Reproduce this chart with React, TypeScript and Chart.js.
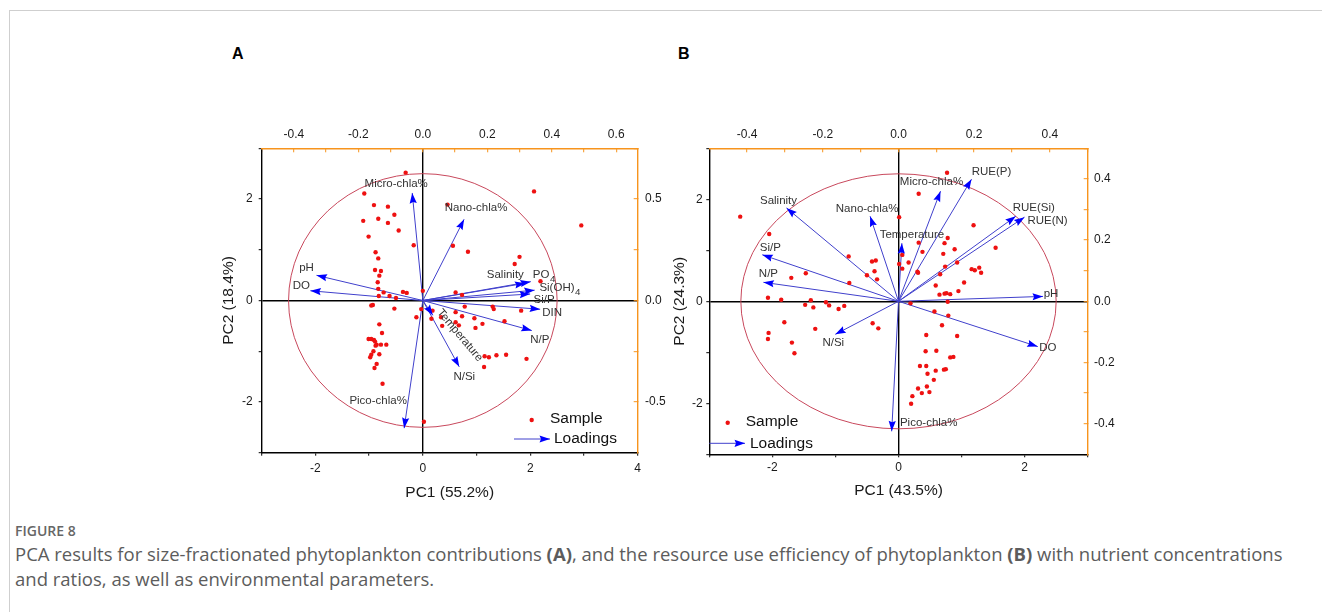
import React, { useEffect, useRef } from 'react';
import { Chart, registerables } from 'chart.js';
Chart.register(...registerables);

const FONT = "'Liberation Sans', Arial, Helvetica, sans-serif";
const RED = '#ee1111';
const SHAFT = '#4040cc';
const HEAD = '#0000ff';
const ELLIPSE = '#c8485c';
const ORANGE = '#f7941d';
const CIRCLE_R = 2.5;
const SUBSCRIPTED = ['PO4', 'Si(OH)4'];

// ---------------- Panel A ----------------
const samplesA: [number, number][] = [
  [-0.32, 2.52], [-1.09, 2.11], [-0.91, 1.88], [-0.65, 1.85], [-0.53, 1.69], [-0.83, 1.61], [-1.11, 1.57],
  [-0.65, 1.53], [-0.45, 1.38], [-1.01, 1.26], [-0.17, 1.09], [-0.88, 0.95], [-0.83, 0.83], [-0.89, 0.6],
  [-0.78, 0.58], [-0.81, 0.49], [-0.84, 0.36], [-0.83, 0.23], [-0.82, 0.09], [-0.62, 0.09], [-0.73, 0.16],
  [-0.5, 0.05], [-0.37, 0.17], [-0.3, 0.15], [0.0, 0.19], [0.46, 1.89], [0.56, 1.08], [0.84, 0.96],
  [2.07, 2.15], [2.95, 1.48], [1.8, 0.86], [1.71, 0.72], [2.19, 0.38], [0.61, 0.16], [0.73, 0.11],
  [-0.93, -0.09], [-0.96, -0.1], [-0.53, -0.16], [-0.81, -0.47], [-0.76, -0.64], [-1.01, -0.76],
  [-0.96, -0.76], [-0.91, -0.78], [-0.89, -0.81], [-0.86, -0.87], [-0.78, -0.87], [-0.68, -0.87],
  [-0.88, -0.89], [-0.92, -1.0], [-0.96, -1.07], [-0.98, -1.12], [-0.81, -1.06], [-0.86, -1.25],
  [-0.9, -1.33], [-0.75, -1.64], [0.02, -2.39], [-0.03, -0.17], [-0.12, -0.33], [0.16, -0.36],
  [0.18, -0.2], [0.34, -0.33], [0.36, -0.5], [0.61, -0.23], [0.73, -0.31], [0.78, -0.12], [0.61, -0.43],
  [0.67, -0.49], [0.96, -0.35], [0.98, -0.54], [1.11, -0.46], [1.3, -0.12], [1.32, -0.17], [1.52, -0.41],
  [1.83, -0.2], [1.15, -1.1], [1.23, -1.12], [1.37, -1.08], [1.55, -1.07], [1.93, -1.15], [1.14, -1.31],
];
const loadingNamesA = ['Micro-chla%', 'Nano-chla%', 'pH', 'DO', 'Salinity', 'PO4', 'Si(OH)4', 'Si/P', 'DIN', 'N/P', 'N/Si', 'Temperature', 'Pico-chla%'];
const loadingPC1A = [-0.033, 0.128, -0.33, -0.349, 0.318, 0.335, 0.347, 0.333, 0.364, 0.338, 0.113, 0.031, -0.058];
const loadingPC2A = [0.53, 0.40, 0.124, 0.048, 0.085, 0.093, 0.051, 0.032, -0.043, -0.148, -0.327, -0.073, -0.629];
const bottomTicksA = [-3, -2, -1, 0, 1, 2, 3, 4];
const bottomLabelsA = [-2, 0, 2, 4];
const leftTicksA = [-3, -2, -1, 0, 1, 2, 3];
const leftLabelsA = [-2, 0, 2];
const topTicksA = [-0.5, -0.4, -0.3, -0.2, -0.1, 0, 0.1, 0.2, 0.3, 0.4, 0.5, 0.6];
const topLabelsA = [-0.4, -0.2, 0, 0.2, 0.4, 0.6];
const rightTicksA = [-0.75, -0.5, -0.25, 0, 0.25, 0.5, 0.75];
const rightLabelsA = [-0.5, 0, 0.5];

// ---------------- Panel B ----------------
const samplesB: [number, number][] = [
  [-2.51, 1.66], [-2.05, 1.32], [0.77, 2.52], [0.32, 2.11], [0.01, 1.65], [1.19, 1.49], [1.54, 1.05],
  [-0.79, 0.88], [-0.42, 0.78], [-0.36, 0.8], [-0.38, 0.59], [-0.5, 0.51], [-0.34, 0.43], [-0.78, 0.36],
  [-1.47, 0.55], [-1.7, 0.46], [-2.07, 0.07], [-1.86, 0.03], [0.06, 0.91], [0.01, 0.73], [0.06, 0.64],
  [0.16, 0.76], [0.32, 1.15], [0.38, 0.97], [0.3, 0.58], [0.31, 0.56], [0.78, 1.24], [0.73, 1.14],
  [0.89, 1.02], [0.71, 0.93], [0.74, 0.68], [0.93, 0.76], [0.66, 0.53], [0.59, 0.31], [0.65, 0.13],
  [0.73, 0.15], [0.76, 0.16], [0.82, 0.14], [0.95, 0.2], [1.04, 0.37], [1.16, 0.63], [1.21, 0.61],
  [1.28, 0.66], [1.31, 0.56], [0.19, -0.04], [-1.48, -0.07], [-1.35, -0.12], [-1.39, 0.02],
  [-1.15, -0.02], [-1.1, -0.08], [-0.95, -0.15], [-0.86, -0.09], [-1.81, -0.41], [-2.06, -0.62],
  [-2.07, -0.74], [-1.69, -0.81], [-1.65, -1.02], [-1.32, -0.54], [-0.41, -0.43], [-0.32, -0.53],
  [0.57, -0.2], [0.79, -0.28], [0.78, -0.01], [0.69, -0.47], [0.44, -0.66], [0.93, -0.68], [0.43, -0.98],
  [0.6, -0.97], [0.82, -1.1], [0.87, -1.09], [0.34, -1.27], [0.44, -1.27], [0.59, -1.36], [0.72, -1.34],
  [0.75, -1.33], [0.46, -1.42], [0.56, -1.54], [0.31, -1.71], [0.45, -1.67], [0.37, -1.8], [0.49, -1.78],
  [0.22, -1.86], [0.2, -2.01],
];
const loadingNamesB = ['Salinity', 'Si/P', 'N/P', 'Nano-chla%', 'Temperature', 'Micro-chla%', 'RUE(P)', 'RUE(Si)', 'RUE(N)', 'pH', 'DO', 'N/Si', 'Pico-chla%'];
const loadingPC1B = [-0.296, -0.36, -0.357, -0.075, 0.009, 0.111, 0.193, 0.31, 0.333, 0.382, 0.368, -0.167, -0.018];
const loadingPC2B = [0.305, 0.152, 0.062, 0.278, 0.19, 0.36, 0.399, 0.278, 0.275, 0.016, -0.148, -0.108, -0.425];
const bottomTicksB = [-3, -2, -1, 0, 1, 2, 3];
const bottomLabelsB = [-2, 0, 2];
const leftTicksB = [-3, -2, -1, 0, 1, 2, 3];
const leftLabelsB = [-2, 0, 2];
const topTicksB = [-0.5, -0.4, -0.3, -0.2, -0.1, 0, 0.1, 0.2, 0.3, 0.4, 0.5];
const topLabelsB = [-0.4, -0.2, 0, 0.2, 0.4];
const rightTicksB = [-0.5, -0.4, -0.3, -0.2, -0.1, 0, 0.1, 0.2, 0.3, 0.4, 0.5];
const rightLabelsB = [-0.4, -0.2, 0, 0.2, 0.4];

// ---------------- label styling (pixel offsets from arrow tips) ----------------
const labelOffsetA: [number, number][] = [[-16, -9], [12, -11], [-10, -8], [-9, -5], [-20, -8], [13, -7], [25, -2], [14, 6], [12, 4], [8, 9], [5, 10], [27, 20], [-26, -27]];
const labelRotA = [0, 0, 0, 0, 0, 0, 0, 0, 0, 0, 0, 50, 0];
const labelOffsetB: [number, number][] = [[-8, -7], [8, -7], [5, -8], [-3, -7], [10, -8], [-9, -9], [20, -7], [18, -8], [23, 4], [8, -3], [10, 1], [-2, 8], [37, -9]];
const labelRotB = [0, 0, 0, 0, 0, 0, 0, 0, 0, 0, 0, 0, 0];

type Panel = {
  samples: [number, number][];
  names: string[]; pc1: number[]; pc2: number[];
  offsets: [number, number][]; rots: number[];
  xRange: [number, number]; yRange: [number, number]; x2Range: [number, number]; y2Range: [number, number];
  bottomTicks: number[]; bottomLabels: number[]; leftTicks: number[]; leftLabels: number[];
  topTicks: number[]; topLabels: number[]; rightTicks: number[]; rightLabels: number[];
  xTitle: string; yTitle: string;
  box: { left: number; right: number; top: number; bottom: number };
  pads: { bottom: number; left: number; top: number; right: number };
  titlePads: { x: number; y: number };
  legend: { dotX: number; dotY: number; arrowX0: number; arrowX1: number; arrowY: number; textX1: number; textX2: number };
};

const panelA: Panel = {
  samples: samplesA, names: loadingNamesA, pc1: loadingPC1A, pc2: loadingPC2A,
  offsets: labelOffsetA, rots: labelRotA,
  xRange: [-3, 4], yRange: [-3, 3], x2Range: [-0.5, 4 / 6], y2Range: [-0.75, 0.75],
  bottomTicks: bottomTicksA, bottomLabels: bottomLabelsA, leftTicks: leftTicksA, leftLabels: leftLabelsA,
  topTicks: topTicksA, topLabels: topLabelsA, rightTicks: rightTicksA, rightLabels: rightLabelsA,
  xTitle: 'PC1 (55.2%)', yTitle: 'PC2 (18.4%)',
  box: { left: 61.7, right: 42.3, top: 48.3, bottom: 67.3 },
  pads: { bottom: 5.4, left: 6, top: 10.1, right: 11.3 },
  titlePads: { x: 18.4, y: 19.7 },
  legend: { dotX: 331.7, dotY: 320, arrowX0: 314, arrowX1: 350, arrowY: 339, textX1: 350, textX2: 354 },
};

const panelB: Panel = {
  samples: samplesB, names: loadingNamesB, pc1: loadingPC1B, pc2: loadingPC2B,
  offsets: labelOffsetB, rots: labelRotB,
  xRange: [-3, 3], yRange: [-3, 3], x2Range: [-0.5, 0.5], y2Range: [-0.5, 0.5],
  bottomTicks: bottomTicksB, bottomLabels: bottomLabelsB, leftTicks: leftTicksB, leftLabels: leftLabelsB,
  topTicks: topTicksB, topLabels: topLabelsB, rightTicks: rightTicksB, rightLabels: rightLabelsB,
  xTitle: 'PC1 (43.5%)', yTitle: 'PC2 (24.3%)',
  box: { left: 59.3, right: 42.3, top: 48.3, bottom: 65.7 },
  pads: { bottom: 2.7, left: 3.6, top: 10.1, right: 10.3 },
  titlePads: { x: 19.7, y: 20.7 },
  legend: { dotX: 77.7, dotY: 322.7, arrowX0: 59.3, arrowX1: 95, arrowY: 343.3, textX1: 95.7, textX2: 100 },
};

function arrowHead(ctx: CanvasRenderingContext2D, x0: number, y0: number, x1: number, y1: number) {
  const a = Math.atan2(y1 - y0, x1 - x0);
  ctx.save();
  ctx.translate(x1, y1);
  ctx.rotate(a);
  ctx.beginPath();
  ctx.moveTo(0, 0);
  ctx.lineTo(-10.5, -3.6);
  ctx.lineTo(-9, 0);
  ctx.lineTo(-10.5, 3.6);
  ctx.closePath();
  ctx.fillStyle = HEAD;
  ctx.fill();
  ctx.restore();
}

function drawLabel(ctx: CanvasRenderingContext2D, name: string, x: number, y: number, size: number, rotDeg: number) {
  const hasSub = SUBSCRIPTED.includes(name);
  const main = hasSub ? name.slice(0, -1) : name;
  const sub = hasSub ? name.slice(-1) : '';
  ctx.save();
  ctx.translate(x, y);
  if (rotDeg) ctx.rotate((rotDeg * Math.PI) / 180);
  ctx.font = `${size}px ${FONT}`;
  const w1 = ctx.measureText(main).width;
  const subSize = size * 0.85;
  let w2 = 0;
  if (sub) {
    ctx.font = `${subSize}px ${FONT}`;
    w2 = ctx.measureText(sub).width;
  }
  const start = -(w1 + w2) / 2;
  ctx.textBaseline = 'middle';
  ctx.textAlign = 'left';
  ctx.fillStyle = '#333';
  ctx.font = `${size}px ${FONT}`;
  ctx.fillText(main, start, 0);
  if (sub) {
    ctx.font = `${subSize}px ${FONT}`;
    ctx.fillText(sub, start + w1 + 0.5, size * 0.38);
  }
  ctx.restore();
}

function makeDecor(p: Panel) {
  return {
    id: 'pcaDecor',
    beforeDatasetsDraw(chart: any) {
      const { ctx, chartArea, scales } = chart;
      const xs = scales.x, ys = scales.y;
      const cx = xs.getPixelForValue(0), cy = ys.getPixelForValue(0);
      const rx = Math.abs(xs.getPixelForValue(CIRCLE_R) - cx);
      const ry = Math.abs(ys.getPixelForValue(CIRCLE_R) - cy);
      ctx.save();
      ctx.beginPath();
      ctx.rect(chartArea.left, chartArea.top, chartArea.right - chartArea.left, chartArea.bottom - chartArea.top);
      ctx.clip();
      ctx.beginPath();
      ctx.ellipse(cx, cy, rx, ry, 0, 0, Math.PI * 2);
      ctx.strokeStyle = ELLIPSE;
      ctx.lineWidth = 1;
      ctx.stroke();
      ctx.restore();
    },
    afterDatasetsDraw(chart: any) {
      const { ctx, scales } = chart;
      const x2 = scales.x2, y2 = scales.y2;
      const ox = x2.getPixelForValue(0), oy = y2.getPixelForValue(0);
      p.names.forEach((name, i) => {
        const tx = x2.getPixelForValue(p.pc1[i]);
        const ty = y2.getPixelForValue(p.pc2[i]);
        arrowHead(ctx, ox, oy, tx, ty);
        drawLabel(ctx, name, tx + p.offsets[i][0], ty + p.offsets[i][1], 11.5, p.rots[i]);
      });
      // legend
      const L = p.legend;
      ctx.save();
      ctx.beginPath();
      ctx.arc(L.dotX, L.dotY, 2.2, 0, Math.PI * 2);
      ctx.fillStyle = RED;
      ctx.fill();
      ctx.beginPath();
      ctx.moveTo(L.arrowX0, L.arrowY);
      ctx.lineTo(L.arrowX1, L.arrowY);
      ctx.strokeStyle = SHAFT;
      ctx.lineWidth = 1;
      ctx.stroke();
      arrowHead(ctx, L.arrowX0, L.arrowY, L.arrowX1, L.arrowY);
      ctx.fillStyle = '#111';
      ctx.font = `15.5px ${FONT}`;
      ctx.textBaseline = 'middle';
      ctx.textAlign = 'left';
      ctx.fillText('Sample', L.textX1, L.dotY - 1);
      ctx.fillText('Loadings', L.textX2, L.arrowY);
      ctx.restore();
    },
  };
}

function scaleOpts(o: {
  axis: 'x' | 'y'; position: string; min: number; max: number; ticks: number[]; labels: number[];
  decimals: number; color: string; tickLen: number; pad: number; size: number; zero: boolean;
  title?: string; titlePad?: number;
}) {
  const horizontal = o.axis === 'x';
  const res: any = {
    type: 'linear', axis: o.axis, position: o.position, min: o.min, max: o.max,
    afterBuildTicks: (s: any) => { s.ticks = o.ticks.map((v) => ({ value: v })); },
    afterFit: (s: any) => { if (horizontal) s.height = o.size; else s.width = o.size; },
    ticks: {
      autoSkip: false, maxRotation: 0, minRotation: 0, padding: o.pad, color: '#1a1a1a',
      font: { family: FONT, size: 12 },
      callback: (v: any) => (o.labels.includes(Number(v)) ? Number(v).toFixed(o.decimals) : ''),
    },
    grid: {
      display: true,
      drawOnChartArea: o.zero,
      color: (c: any) => (c.tick && c.tick.value === 0 ? '#000' : 'rgba(0,0,0,0)'),
      lineWidth: 1.4,
      drawTicks: true,
      tickLength: o.tickLen,
      tickColor: o.color,
      tickWidth: 1,
    },
    border: { display: true, color: o.color, width: 1.4 },
  };
  if (o.title) {
    res.title = {
      display: true, text: o.title, color: '#1a1a1a', font: { family: FONT, size: 15.5 },
      padding: horizontal ? { top: 0, bottom: o.titlePad } : { top: o.titlePad, bottom: 0 },
    };
  }
  return res;
}

function makeConfig(p: Panel): any {
  const datasets: any[] = [
    {
      type: 'scatter', label: 'Sample', xAxisID: 'x', yAxisID: 'y',
      data: p.samples.map(([x, y]) => ({ x, y })),
      pointRadius: 2.2, pointBackgroundColor: RED, pointBorderWidth: 0, showLine: false,
    },
  ];
  p.names.forEach((name, i) => {
    datasets.push({
      type: 'line', label: name, xAxisID: 'x2', yAxisID: 'y2',
      data: [{ x: 0, y: 0 }, { x: p.pc1[i], y: p.pc2[i] }],
      borderColor: SHAFT, borderWidth: 1, pointRadius: 0, fill: false, tension: 0,
    });
  });
  return {
    type: 'scatter',
    data: { datasets },
    options: {
      responsive: false,
      animation: false,
      devicePixelRatio: 1,
      layout: { padding: 0 },
      plugins: { legend: { display: false }, tooltip: { enabled: false }, title: { display: false } },
      scales: {
        x: scaleOpts({ axis: 'x', position: 'bottom', min: p.xRange[0], max: p.xRange[1], ticks: p.bottomTicks, labels: p.bottomLabels, decimals: 0, color: '#000', tickLen: 3, pad: p.pads.bottom, size: p.box.bottom, zero: true, title: p.xTitle, titlePad: p.titlePads.x }),
        y: scaleOpts({ axis: 'y', position: 'left', min: p.yRange[0], max: p.yRange[1], ticks: p.leftTicks, labels: p.leftLabels, decimals: 0, color: '#000', tickLen: 3, pad: p.pads.left, size: p.box.left, zero: true, title: p.yTitle, titlePad: p.titlePads.y }),
        x2: scaleOpts({ axis: 'x', position: 'top', min: p.x2Range[0], max: p.x2Range[1], ticks: p.topTicks, labels: p.topLabels, decimals: 1, color: ORANGE, tickLen: -4, pad: p.pads.top, size: p.box.top, zero: false }),
        y2: scaleOpts({ axis: 'y', position: 'right', min: p.y2Range[0], max: p.y2Range[1], ticks: p.rightTicks, labels: p.rightLabels, decimals: 1, color: ORANGE, tickLen: -4, pad: p.pads.right, size: p.box.right, zero: false }),
      },
    },
    plugins: [makeDecor(p)],
  };
}

export default function App() {
  const refA = useRef<HTMLCanvasElement>(null);
  const refB = useRef<HTMLCanvasElement>(null);
  useEffect(() => {
    const a = new Chart(refA.current as HTMLCanvasElement, makeConfig(panelA));
    const b = new Chart(refB.current as HTMLCanvasElement, makeConfig(panelB));
    return () => { a.destroy(); b.destroy(); };
  }, []);
  const letter: React.CSSProperties = { position: 'absolute', top: 44, font: `bold 16px ${FONT}`, color: '#000', lineHeight: '20px' };
  return (
    <div style={{ position: 'absolute', left: 0, top: 0, width: 1322, height: 612, background: '#fff', overflow: 'hidden' }}>
      <div style={{ position: 'absolute', left: 9, top: 10, width: 1320, height: 610, borderTop: '1px solid #cfcfcf', borderLeft: '1px solid #cfcfcf' }} />
      <div style={{ ...letter, left: 232 }}>A</div>
      <div style={{ ...letter, left: 678 }}>B</div>
      <canvas ref={refA} width={480} height={420} style={{ position: 'absolute', left: 200, top: 100 }} />
      <canvas ref={refB} width={480} height={420} style={{ position: 'absolute', left: 650, top: 100 }} />
      <div style={{ position: 'absolute', left: 15, top: 520, font: "600 14px 'Open Sans', sans-serif", color: '#666', lineHeight: '22px', whiteSpace: 'nowrap' }}>FIGURE 8</div>
      <div style={{ position: 'absolute', left: 15, top: 541, font: "18.5px 'Open Sans', sans-serif", color: '#5c5c5c', lineHeight: '25px', whiteSpace: 'nowrap' }}>
        PCA results for size-fractionated phytoplankton contributions <b>(A)</b>, and the resource use efficiency of phytoplankton <b>(B)</b> with nutrient concentrations
        <br />
        and ratios, as well as environmental parameters.
      </div>
    </div>
  );
}
